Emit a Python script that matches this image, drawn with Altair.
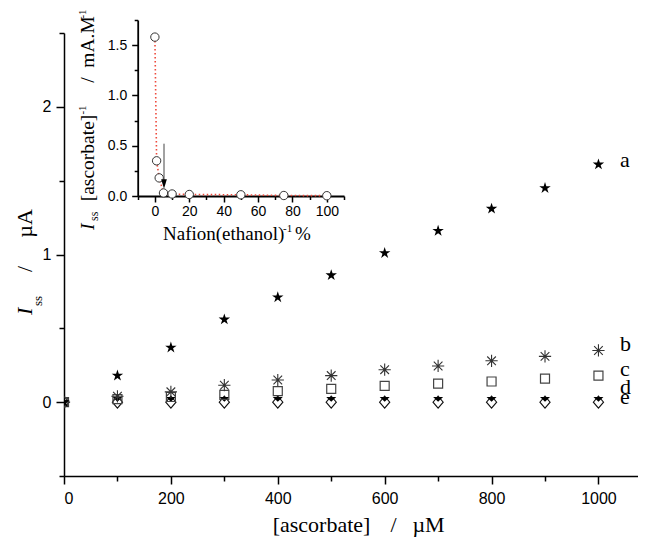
import altair as alt
import pandas as pd

# ---------------- data ----------------
conc = [0, 100, 200, 300, 400, 500, 600, 700, 800, 900, 1000]
series_a = [0.0, 0.18, 0.37, 0.56, 0.71, 0.86, 1.01, 1.16, 1.31, 1.45, 1.61]
series_b = [0.0, 0.04, 0.07, 0.115, 0.15, 0.18, 0.22, 0.245, 0.28, 0.31, 0.35]
series_c = [0.0, 0.02, 0.035, 0.05, 0.075, 0.09, 0.11, 0.125, 0.14, 0.16, 0.18]
series_d = [0.0, 0.02, 0.02, 0.02, 0.02, 0.02, 0.02, 0.02, 0.02, 0.02, 0.02]
series_e = [0.0, 0.0, 0.0, 0.0, 0.0, 0.0, 0.0, 0.0, 0.0, 0.0, 0.0]
series_labels = ["a", "b", "c", "d", "e"]

nafion = [0, 1, 2.5, 5, 10, 20, 50, 75, 100]
inv_sens = [1.58, 0.35, 0.18, 0.03, 0.02, 0.015, 0.012, 0.005, 0.003]
arrow_x = [5.3]
arrow_top = [0.52]
arrow_bottom = [0.15]
arrow_head = [0.12]

x_ticks_main = [0, 100, 200, 300, 400, 500, 600, 700, 800, 900, 1000]
y_ticks_major = [0, 1, 2]
y_ticks_minor = [-0.5, 0.5, 1.5, 2.5]
x_ticks_inset = [-10, 0, 10, 20, 30, 40, 50, 60, 70, 80, 90, 100, 110]
y_ticks_inset = [0, 0.25, 0.5, 0.75, 1.0, 1.25, 1.5, 1.75]

df_main = pd.DataFrame({"conc": conc, "a": series_a, "b": series_b,
                        "c": series_c, "d": series_d, "e": series_e})
df_inset = pd.DataFrame({"naf": nafion, "inv": inv_sens})
df_arrow = pd.DataFrame({"ax": arrow_x, "ay1": arrow_top, "ay2": arrow_bottom,
                         "ah": arrow_head})
df_one = pd.DataFrame({"k": [0]})

# ---------------- geometry ----------------
W, H = 574, 443
SERIF = "Liberation Serif"
SANS = "Liberation Sans"

xs_main = alt.Scale(domain=[0, 1074], nice=False, zero=False)
ys_main = alt.Scale(domain=[-0.5, 2.5], nice=False, zero=False)

x_axis_main = alt.Axis(
    values=x_ticks_main, orient="bottom", title=None, format="d", grid=False,
    labelExpr="datum.value % 200 === 0 ? datum.label : ''",
    tickSize={"condition": {"test": "datum.value % 200 === 0", "value": 8}, "value": 5},
    tickColor="black", tickWidth=1.5, domainColor="black", domainWidth=1.5,
    labelFont=SANS, labelFontSize=16, labelColor="black", labelPadding=6,
)
y_axis_major = alt.Axis(
    values=y_ticks_major, orient="left", title=None, format="d", grid=False,
    tickSize=8, tickColor="black", tickWidth=1.5, domainColor="black", domainWidth=1.5,
    labelFont=SANS, labelFontSize=16, labelColor="black", labelPadding=5,
)
y_axis_minor = alt.Axis(
    values=y_ticks_minor, orient="left", title=None, grid=False, labels=False,
    domain=False, tickSize=5, tickColor="black", tickWidth=1.5,
)

STAR = ("M0,-1L0.2245,-0.309L0.9511,-0.309L0.3633,0.118L0.5878,0.809L0,0.382"
        "L-0.5878,0.809L-0.3633,0.118L-0.9511,-0.309L-0.2245,-0.309Z")
ASTER = "M-1,0L1,0M0,-1L0,1M-0.707,-0.707L0.707,0.707M-0.707,0.707L0.707,-0.707"
TRI_D = "M-1,-0.45L1,-0.45L0,0.5Z"
DIAM = "M0,-1L0.85,0L0,1L-0.85,0Z"

base = alt.Chart(df_main)


def series_layer(col, yaxis, **mark):
    return base.mark_point(clip=True, **mark).encode(
        x=alt.X("conc:Q", scale=xs_main, axis=x_axis_main),
        y=alt.Y(f"{col}:Q", scale=ys_main, axis=yaxis),
    )


lay_e = series_layer("e", None, shape=DIAM, size=144, filled=False, stroke="#111",
                     strokeWidth=1.1, opacity=1)
lay_d = series_layer("d", None, shape=TRI_D, size=100, filled=True, color="#000", opacity=1)
lay_c = series_layer("c", None, shape="square", size=81, filled=False, stroke="#444",
                     strokeWidth=1.2, opacity=1)
lay_b = series_layer("b", y_axis_minor, shape=ASTER, size=150, filled=False, stroke="#333",
                     strokeWidth=1.1, opacity=1)
lay_a = series_layer("a", y_axis_major, shape=STAR, size=145, filled=True, color="#000",
                     opacity=1)


def txt(text, x, y, size, align="center", angle=0, style="normal", font=SERIF,
        baseline="alphabetic"):
    return alt.Chart(df_one).mark_text(
        text=text, font=font, fontSize=size, fontStyle=style, align=align,
        baseline=baseline, angle=angle, color="black",
    ).encode(x=alt.value(x), y=alt.value(y))


# series letters at the right
letter_y = [134, 318, 343, 361, 371]
letters = [txt(t, 556, yy, 22, align="left") for t, yy in zip(series_labels, letter_y)]

# main axis titles
main_titles = [
    txt("[ascorbate]", 257.5, 499, 22),
    txt("/", 329.5, 499, 22),
    txt("µM", 364.5, 499, 22),
    txt("I", -32, 282, 22, align="left", angle=270, style="italic"),
    txt("ss", -22, 273, 13, align="left", angle=270),
    txt("/", -32, 236, 22, angle=270),
    txt("µA", -32, 190.5, 22, angle=270),
]

main = alt.layer(lay_e, lay_d, lay_c, lay_b, lay_a, *letters, *main_titles).resolve_axis(
    y="independent")

# ---------------- inset ----------------
xs_in = alt.Scale(domain=[-10, 110], range=[73.7, 280], nice=False, zero=False)
ys_in = alt.Scale(domain=[0, 1.75], range=[163, -13], nice=False, zero=False)

x_axis_in = alt.Axis(
    values=x_ticks_inset, orient="bottom", offset=-(H - 163), title=None, format="d",
    grid=False, labelExpr="datum.value % 20 === 0 ? datum.label : ''",
    tickSize={"condition": {"test": "datum.value % 20 === 0", "value": 6}, "value": 3.5},
    tickColor="black", tickWidth=1.5, domainColor="black", domainWidth=1.8,
    labelFont=SANS, labelFontSize=14, labelColor="black", labelPadding=2,
)
y_axis_in = alt.Axis(
    values=y_ticks_inset, orient="left", offset=-73.7, title=None, format=".1f",
    grid=False, labelExpr="datum.value % 0.5 === 0 ? datum.label : ''",
    tickSize={"condition": {"test": "datum.value % 0.5 === 0", "value": 6}, "value": 3.5},
    tickColor="black", tickWidth=1.5, domainColor="black", domainWidth=1.8,
    labelFont=SANS, labelFontSize=14, labelColor="black", labelPadding=5,
)

in_base = alt.Chart(df_inset)
in_line = in_base.mark_line(color="#ee4a3c", strokeDash=[1.5, 2.5], strokeWidth=1.6).encode(
    x=alt.X("naf:Q", scale=xs_in, axis=x_axis_in),
    y=alt.Y("inv:Q", scale=ys_in, axis=y_axis_in),
)
in_pts = in_base.mark_point(shape="circle", size=70, fill="white", fillOpacity=1,
                            stroke="#333", strokeWidth=1, opacity=1).encode(
    x=alt.X("naf:Q", scale=xs_in, axis=x_axis_in),
    y=alt.Y("inv:Q", scale=ys_in, axis=y_axis_in),
)
arr_base = alt.Chart(df_arrow)
arr_line = arr_base.mark_rule(color="#444", strokeWidth=1).encode(
    x=alt.X("ax:Q", scale=xs_in, axis=x_axis_in),
    y=alt.Y("ay1:Q", scale=ys_in, axis=y_axis_in),
    y2="ay2:Q",
)
arr_head = arr_base.mark_point(shape="M-0.6,-1L0.6,-1L0,1Z", size=90, filled=True,
                               color="#000", opacity=1).encode(
    x=alt.X("ax:Q", scale=xs_in, axis=x_axis_in),
    y=alt.Y("ah:Q", scale=ys_in, axis=y_axis_in),
)

inset_titles = [
    txt("Nafion(ethanol)", 99, 207, 19, align="left"),
    txt("-1", 219, 199, 11, align="left"),
    txt("%", 231, 207, 19, align="left"),
    txt("I", 30, 197, 19.5, align="left", angle=270, style="italic"),
    txt("ss", 34, 188, 12, align="left", angle=270),
    txt("[ascorbate]", 30, 125, 19.5, angle=270),
    txt("-1", 22, 77, 11, angle=270),
    txt("/", 30, 47, 19.5, angle=270),
    txt("mA.M", 30, 9, 19.5, angle=270),
    txt("-1", 22, -19, 11, angle=270),
]

inset = alt.layer(in_line, in_pts, arr_line, arr_head, *inset_titles)

chart = alt.layer(main, inset).resolve_scale(x="independent", y="independent").properties(
    width=W, height=H,
    autosize=alt.AutoSizeParams(type="none"),
    padding={"left": 56, "top": 25, "right": 0, "bottom": 62},
    background="white",
).configure_view(stroke=None)

chart.save("out.html", embed_options={"renderer": "svg", "actions": False})
